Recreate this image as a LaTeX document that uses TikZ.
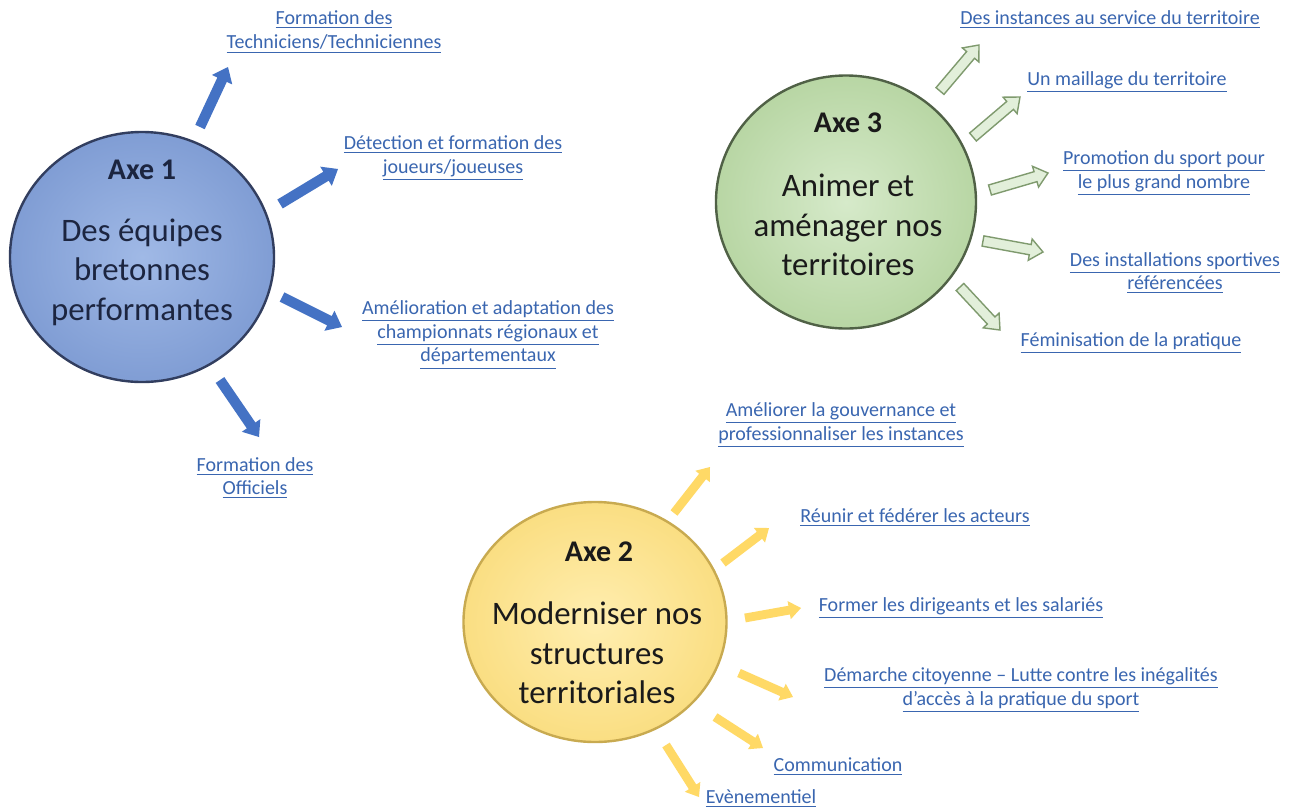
\documentclass[tikz,border=0pt]{standalone}
\usepackage{fontspec}
\setmainfont{Carlito}
\usetikzlibrary{calc,shapes.geometric}
\definecolor{linkblue}{HTML}{3A66B0}
\definecolor{ink}{HTML}{1A1A1A}
\definecolor{inknavy}{HTML}{1C2540}
\definecolor{arrblue}{HTML}{4472C4}
\definecolor{arrgreenfill}{HTML}{E2EFDA}
\definecolor{arrgreenline}{HTML}{7F9A6E}
\definecolor{arryellow}{HTML}{FFD966}
\definecolor{cbluein}{RGB}{160,185,230}
\definecolor{cblueout}{RGB}{128,157,212}
\definecolor{cblueline}{RGB}{50,62,95}
\definecolor{cgreenin}{RGB}{214,234,202}
\definecolor{cgreenout}{RGB}{184,214,164}
\definecolor{cgreenline}{RGB}{80,97,70}
\definecolor{cyellin}{RGB}{255,238,176}
\definecolor{cyellout}{RGB}{250,222,130}
\definecolor{cyellline}{RGB}{200,170,80}
\newcommand\blockarr[6]{% style, tail, tip, half shaft, half head, head length
  \coordinate (ba-n) at ($(#3)!#6!(#2)$);
  \path[#1] ($(#2)!#4!90:(#3)$) -- ($(ba-n)!#4!90:(#3)$) -- ($(ba-n)!#5!90:(#3)$)
    -- (#3) -- ($(ba-n)!#5!-90:(#3)$) -- ($(ba-n)!#4!-90:(#3)$) -- ($(#2)!#4!-90:(#3)$) -- cycle;
}
\newcommand\ul[1]{\underline{#1}}
\begin{document}
\begin{tikzpicture}[x=0.5pt,y=-0.5pt,
  circ/.style={ellipse, line width=1.2pt, inner sep=0pt},
  axetitle/.style={font=\fontsize{15}{18}\selectfont\bfseries, inner sep=0pt},
  axebody/.style={font=\fontsize{16.4}{19.8}\selectfont, align=center, inner sep=0pt},
  lbl/.style={font=\fontsize{10}{11.8}\selectfont, text=linkblue, align=center, inner sep=0pt},
  arrone/.style={fill=arrblue},
  arrthree/.style={fill=arrgreenfill, draw=arrgreenline, line width=0.7pt, line join=miter},
  arrtwo/.style={fill=arryellow}]
\useasboundingbox[fill=white] (0,0) rectangle (1298,810);

% ---- circles
\node[circ, draw=cblueline, inner color=cbluein, outer color=cblueout, minimum width=132pt, minimum height=125pt] (c1) at (142,257) {};
\node[circ, draw=cgreenline, inner color=cgreenin, outer color=cgreenout, minimum width=130pt, minimum height=126.5pt] (c3) at (846,202) {};
\node[circ, draw=cyellline, inner color=cyellin, outer color=cyellout, minimum width=131.5pt, minimum height=120pt] (c2) at (595,622) {};

% ---- circle texts
\node[axetitle, text=inknavy] (t1) at (142,170) {Axe 1};
\node[axebody, text=inknavy] (b1) at (142,272) {Des équipes\\bretonnes\\performantes};
\node[axetitle, text=ink] (t3) at (848,123) {Axe 3};
\node[axebody, text=ink] (b3) at (848,225) {Animer et\\aménager nos\\territoires};
\node[axetitle, text=ink] (t2) at (599,552) {Axe 2};
\node[axebody, text=ink] (b2) at (597,653) {Moderniser nos\\structures\\territoriales};

% ---- labels axe 1
\node[lbl] (l1a) at (334,32) {\ul{Formation des}\\\ul{Techniciens/Techniciennes}};
\node[lbl] (l1b) at (453,158) {\ul{Détection et formation des}\\\ul{joueurs/joueuses}};
\node[lbl] (l1c) at (488,335) {\ul{Amélioration et adaptation des}\\\ul{championnats régionaux et}\\\ul{départementaux}};
\node[lbl] (l1d) at (255,478) {\ul{Formation des}\\\ul{Officiels}};
% ---- labels axe 3
\node[lbl] (l3a) at (1110,20) {\ul{Des instances au service du territoire}};
\node[lbl] (l3b) at (1127,82) {\ul{Un maillage du territoire}};
\node[lbl] (l3c) at (1164,173) {\ul{Promotion du sport pour}\\\ul{le plus grand nombre}};
\node[lbl] (l3d) at (1175,273) {\ul{Des installations sportives}\\\ul{référencées}};
\node[lbl] (l3e) at (1131,343) {\ul{Féminisation de la pratique}};
% ---- labels axe 2
\node[lbl] (l2a) at (841,425) {\ul{Améliorer la gouvernance et}\\\ul{professionnaliser les instances}};
\node[lbl] (l2b) at (915,518) {\ul{Réunir et fédérer les acteurs}};
\node[lbl] (l2c) at (961,608) {\ul{Former les dirigeants et les salariés}};
\node[lbl] (l2d) at (1021,690) {\ul{Démarche citoyenne – Lutte contre les inégalités}\\\ul{d'accès à la pratique du sport}};
\node[lbl] (l2e) at (838,767) {\ul{Communication}};
\node[lbl] (l2f) at (761,799) {\ul{Evènementiel}};

% ---- arrow end points
\coordinate (a1t) at (200,127); \coordinate (a1h) at (228,67);
\coordinate (a2t) at (280,204); \coordinate (a2h) at (338,169);
\coordinate (a3t) at (282,297); \coordinate (a3h) at (342,327);
\coordinate (a4t) at (220,380); \coordinate (a4h) at (259,437);
\coordinate (c1t) at (940,91);  \coordinate (c1h) at (979,45);
\coordinate (c2t) at (973,137); \coordinate (c2h) at (1020,97);
\coordinate (c3t) at (990,190); \coordinate (c3h) at (1048,173);
\coordinate (c4t) at (983,241); \coordinate (c4h) at (1043,252);
\coordinate (c5t) at (960,287); \coordinate (c5h) at (1000,330);
\coordinate (b1t) at (674,513); \coordinate (b1h) at (710,467);
\coordinate (b2t) at (723,563); \coordinate (b2h) at (769,528);
\coordinate (b3t) at (745,618); \coordinate (b3h) at (801,608);
\coordinate (b4t) at (739,673); \coordinate (b4h) at (793,697);
\coordinate (b5t) at (715,717); \coordinate (b5h) at (763,748);
\coordinate (b6t) at (666,745); \coordinate (b6h) at (699,797);

% ---- arrows
\foreach \i in {1,2,3,4}{\blockarr{arrone}{a\i t}{a\i h}{2.6pt}{5.6pt}{7pt}}
\foreach \i in {1,2,3,4,5}{\blockarr{arrthree}{c\i t}{c\i h}{2.6pt}{5.4pt}{6.5pt}}
\foreach \i in {1,2,3,4,5,6}{\blockarr{arrtwo}{b\i t}{b\i h}{2.2pt}{4.6pt}{6pt}}
\end{tikzpicture}
\end{document}
